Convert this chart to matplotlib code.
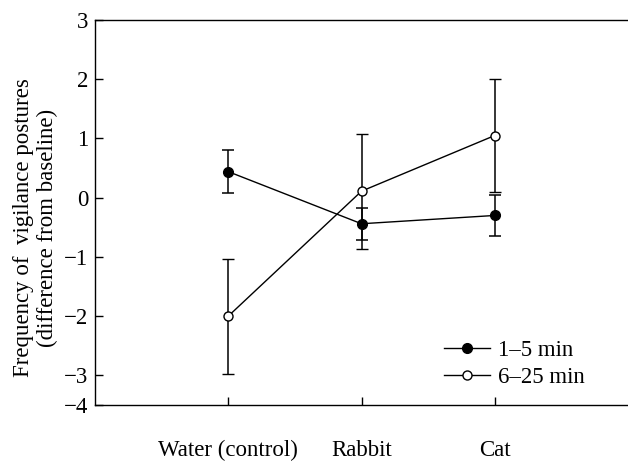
import matplotlib
matplotlib.use("Agg")
import matplotlib.pyplot as plt
import numpy as np

plt.rcParams['font.family'] = ['Liberation Serif', 'DejaVu Serif']

# Data
categories = ['Water (control)', 'Rabbit', 'Cat']
early = [0.44, -0.44, -0.30]       # 1–5 min
early_err = [0.36, 0.27, 0.35]
late = [-2.0, 0.11, 1.05]          # 6–25 min
late_err = [0.97, 0.97, 0.95]

yticks = [-3.5, -3, -2, -1, 0, 1, 2, 3]
ytick_labels = ['\u22124', '\u22123', '\u22122', '\u22121', '0', '1', '2', '3']

x = np.arange(1, len(categories) + 1)
fs = 16.5

fig = plt.figure(figsize=(6.28, 4.61), dpi=100)
ax = fig.add_axes([0.1513, 0.1215, 0.8487, 0.8351])

e1 = ax.errorbar(x, early, yerr=early_err, fmt='-o', color='black', mfc='black',
                 mec='black', ms=7, lw=1.0, elinewidth=1.1, capsize=4.5,
                 capthick=1.1, label='1\u20135 min', zorder=3)
e2 = ax.errorbar(x, late, yerr=late_err, fmt='-o', color='black', mfc='white',
                 mec='black', ms=6.5, mew=1.0, lw=1.0, elinewidth=1.1, capsize=4.5,
                 capthick=1.1, label='6\u201325 min', zorder=4)

ax.set_xlim(0, 4)
ax.set_ylim(-3.5, 3)
ax.set_xticks(x)
ax.set_xticklabels(categories)
ax.set_yticks(yticks)
ax.set_yticklabels(ytick_labels)
ax.tick_params(direction='in', length=5.5, width=1.0, labelsize=fs)
ax.tick_params(axis='y', pad=5)
ax.tick_params(axis='x', pad=25)

ax.spines['right'].set_visible(False)
for s in ['left', 'top', 'bottom']:
    ax.spines[s].set_linewidth(1.0)

ax.set_ylabel('Frequency of  vigilance postures\n(difference from baseline)',
              fontsize=fs, linespacing=1.2)
ax.yaxis.set_label_coords(-0.069, 0.46)

ax.legend(handles=[e1.lines[0], e2.lines[0]], labels=['1\u20135 min', '6\u201325 min'],
          loc='center left', bbox_to_anchor=(0.655, 0.1065), frameon=False,
          fontsize=fs, handlelength=2.0, handletextpad=0.35,
          labelspacing=0.25, borderpad=0, borderaxespad=0)

fig.savefig('out.png', dpi=100)
